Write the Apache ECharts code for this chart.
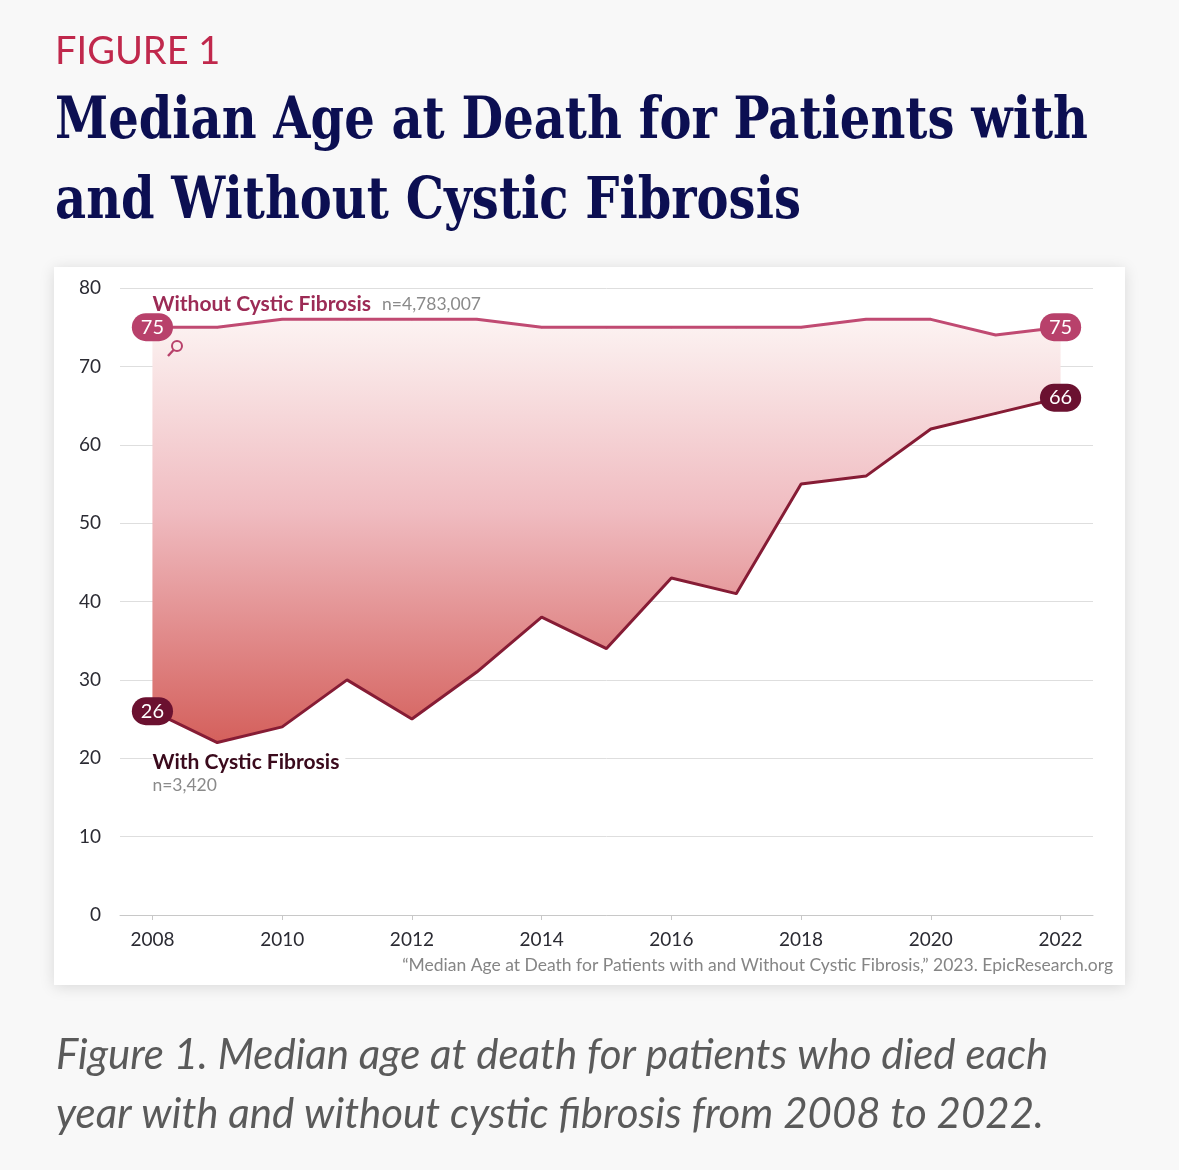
<!DOCTYPE html>
<html>
<head>
<meta charset="utf-8">
<script src="https://cdn.jsdelivr.net/npm/echarts@6/dist/echarts.min.js"></script>
<style>
  html, body { margin: 0; padding: 0; background: #f8f8f8; }
  #chart { width: 1179px; height: 1170px; }
</style>
</head>
<body>
<div id="chart"></div>
<script>
// years on the x axis
const years = ['2008','2009','2010','2011','2012','2013','2014','2015','2016','2017','2018','2019','2020','2021','2022'];
// median age at death
const withoutCF = [75, 75, 76, 76, 76, 76, 75, 75, 75, 75, 75, 76, 76, 74, 75];
const withCF    = [26, 22, 24, 30, 25, 31, 38, 34, 43, 41, 55, 56, 62, 64, 66];
const yTicks = { min: 0, max: 80, step: 10 };

const labelFont = 'Lato, "Open Sans", sans-serif';
const last = years.length - 1;

// gap between the two lines, stacked on top of withCF
const gap = withoutCF.map((v, i) => v - withCF[i]);

function badges(values, color) {
  return values.map((v, i) => ({
    value: v,
    label: {
      show: i === 0 || i === last,
      position: 'inside',
      color: '#fff',
      fontFamily: labelFont,
      fontSize: 20,
      backgroundColor: color,
      borderRadius: 14,
      padding: [5, 9, 3, 9]
    }
  }));
}

// fit the serif title to the width it has in the figure
function fitScale(text, font, target) {
  const c = document.createElement('canvas').getContext('2d');
  c.font = font;
  return target / c.measureText(text).width;
}
const titleFont = 'bold 58px "DejaVu Serif"';
const t1 = 'Median Age at Death for Patients with';
const t2 = 'and Without Cystic Fibrosis';
const s1 = fitScale(t1, titleFont, 1033);

const myChart = echarts.init(document.getElementById('chart'));

const option = {
  backgroundColor: '#f8f8f8',
  animation: false,
  grid: { left: 120, right: 86, top: 288, bottom: 255 },
  xAxis: {
    type: 'category',
    data: years,
    boundaryGap: true,
    axisLine: { lineStyle: { color: '#c8c8c8', width: 1 } },
    axisTick: { show: true, interval: 1, alignWithLabel: true, length: 5, lineStyle: { color: '#c8c8c8' } },
    axisLabel: { interval: 1, color: '#2b2b33', fontFamily: labelFont, fontSize: 19, margin: 15 },
    splitLine: { show: false }
  },
  yAxis: {
    type: 'value',
    min: yTicks.min,
    max: yTicks.max,
    interval: yTicks.step,
    axisLine: { show: false },
    axisTick: { show: false },
    axisLabel: { color: '#2b2b33', fontFamily: labelFont, fontSize: 19, margin: 19 },
    splitLine: { lineStyle: { color: '#dedede', width: 1 } }
  },
  graphic: [
    {
      type: 'rect', z: -10, silent: true,
      shape: { x: 54, y: 267, width: 1071, height: 718 },
      style: { fill: '#ffffff', shadowBlur: 14, shadowColor: 'rgba(0,0,0,0.13)', shadowOffsetY: 2 }
    },
    {
      type: 'text', left: 55, top: 33,
      style: { text: 'FIGURE 1', fill: '#c0284c', font: '38px ' + labelFont }
    },
    {
      type: 'text', x: 55, y: 94, scaleX: s1, originX: 0,
      style: { text: t1, fill: '#0c0f52', font: titleFont }
    },
    {
      type: 'text', x: 55, y: 174, scaleX: s1, originX: 0,
      style: { text: t2, fill: '#0c0f52', font: titleFont }
    },
    {
      type: 'text', x: 1113, y: 956,
      style: {
        text: '\u201cMedian Age at Death for Patients with and Without Cystic Fibrosis,\u201d 2023. EpicResearch.org',
        fill: '#858585', font: '17.5px ' + labelFont, textAlign: 'right'
      }
    },
    {
      type: 'circle', z: 100, silent: true,
      shape: { cx: 177, cy: 346, r: 5 },
      style: { fill: 'none', stroke: '#b8416b', lineWidth: 2 }
    },
    {
      type: 'line', z: 100, silent: true,
      shape: { x1: 173.5, y1: 350, x2: 168, y2: 356 },
      style: { stroke: '#b8416b', lineWidth: 2.4 }
    },
    {
      type: 'text', x: 56, y: 1034,
      style: { text: 'Figure 1. Median age at death for patients who died each', fill: '#5a5a5a', font: 'italic 42px ' + labelFont }
    },
    {
      type: 'text', x: 56, y: 1093,
      style: { text: 'year with and without cystic fibrosis from 2008 to 2022.', fill: '#5a5a5a', font: 'italic 42px ' + labelFont }
    }
  ],
  series: [
    {
      name: 'base',
      type: 'line',
      data: withCF,
      stack: 'band',
      symbol: 'none',
      lineStyle: { opacity: 0 },
      silent: true,
      z: 1
    },
    {
      name: 'band',
      type: 'line',
      data: gap,
      stack: 'band',
      symbol: 'none',
      lineStyle: { opacity: 0 },
      silent: true,
      z: 1,
      areaStyle: {
        opacity: 1,
        color: new echarts.graphic.LinearGradient(0, 0, 0, 1, [
          { offset: 0, color: '#fcf3f2' },
          { offset: 0.45, color: '#f0bcc1' },
          { offset: 1, color: '#d4605c' }
        ])
      }
    },
    {
      name: 'Without Cystic Fibrosis',
      type: 'line',
      data: badges(withoutCF, '#b8416b'),
      symbol: 'circle',
      symbolSize: 2,
      itemStyle: { color: '#c04a72' },
      lineStyle: { color: '#c04a72', width: 3 },
      z: 5,
      markPoint: {
        symbol: 'circle', symbolSize: 0,
        data: [{
          coord: ['2008', 77.9],
          label: {
            show: true, position: 'right', distance: 0,
            formatter: '{a|Without Cystic Fibrosis}{b|n=4,783,007}',
            rich: {
              a: { fontFamily: labelFont, fontSize: 21, fontWeight: 'bold', color: '#9c2b55', padding: [0, 11, 0, 0] },
              b: { fontFamily: labelFont, fontSize: 17.5, color: '#8a8a8a' }
            }
          }
        }]
      }
    },
    {
      name: 'With Cystic Fibrosis',
      type: 'line',
      data: badges(withCF, '#6b1130'),
      symbol: 'circle',
      symbolSize: 2,
      itemStyle: { color: '#861c35' },
      lineStyle: { color: '#861c35', width: 3 },
      z: 5,
      markPoint: {
        symbol: 'circle', symbolSize: 0,
        data: [{
          coord: ['2008', 18.1],
          label: {
            show: true, position: 'right', distance: 0,
            formatter: '{a|With Cystic Fibrosis}\n{b|n=3,420}',
            rich: {
              a: { fontFamily: labelFont, fontSize: 21, fontWeight: 'bold', color: '#3a0a1c',
                   backgroundColor: '#ffffff', padding: [2, 6, 2, 0], lineHeight: 25 },
              b: { fontFamily: labelFont, fontSize: 17.5, color: '#8a8a8a', lineHeight: 22 }
            }
          }
        }]
      }
    }
  ]
};

myChart.setOption(option);
</script>
</body>
</html>
